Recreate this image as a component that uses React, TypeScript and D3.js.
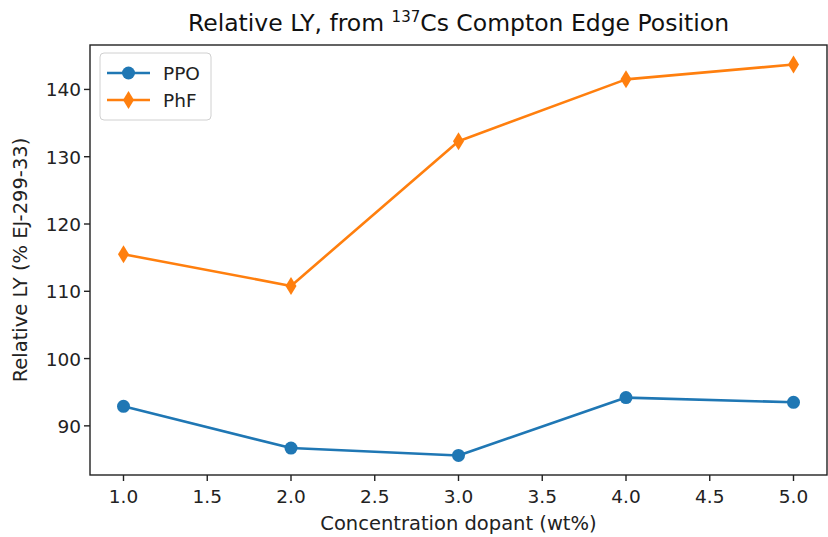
import React from "react";
import * as d3 from "d3";

const concentrations = [1.0, 2.0, 3.0, 4.0, 5.0];
const ppoValues = [92.9, 86.7, 85.6, 94.2, 93.5];
const phfValues = [115.5, 110.8, 132.3, 141.5, 143.7];
const xTicks = [1.0, 1.5, 2.0, 2.5, 3.0, 3.5, 4.0, 4.5, 5.0];
const yTicks = [90, 100, 110, 120, 130, 140];
const seriesNames = ["PPO", "PhF"];
const seriesColors = ["#1f77b4", "#ff7f0e"];

const W = 828;
const H = 537;
const M = { left: 90, right: 827, top: 45, bottom: 475 };
const FONT = "'DejaVu Sans', sans-serif";

export default function App() {
  const x = d3.scaleLinear().domain([0.8, 5.2]).range([M.left, M.right]);
  const all = [...ppoValues, ...phfValues];
  const mn = d3.min(all)!;
  const mx = d3.max(all)!;
  const pad = (mx - mn) * 0.05;
  const y = d3.scaleLinear().domain([mn - pad, mx + pad]).range([M.bottom, M.top]);
  const line = d3
    .line<number>()
    .x((_, i) => x(concentrations[i]))
    .y((d) => y(d));

  const diamond = (cx: number, cy: number, w = 5.5, h = 9) =>
    `M${cx},${cy - h}L${cx + w},${cy}L${cx},${cy + h}L${cx - w},${cy}Z`;

  const series = [ppoValues, phfValues];

  return (
    <svg
      width={W}
      height={H}
      style={{ position: "absolute", left: 0, top: 0, background: "#fff" }}
      fontFamily={FONT}
    >
      <rect x={0} y={0} width={W} height={H} fill="#fff" />
      {/* title */}
      <text x={(M.left + M.right) / 2} y={31} textAnchor="middle" fontSize={23.5} fill="#111">
        Relative LY, from <tspan fontSize={15} dy={-9}>137</tspan>
        <tspan dy={9}>Cs Compton Edge Position</tspan>
      </text>

      {/* lines */}
      {series.map((vals, si) => (
        <path
          key={si}
          d={line(vals) || ""}
          fill="none"
          stroke={seriesColors[si]}
          strokeWidth={2.6}
          strokeLinejoin="round"
        />
      ))}
      {ppoValues.map((v, i) => (
        <circle key={"c" + i} cx={x(concentrations[i])} cy={y(v)} r={6.5} fill={seriesColors[0]} />
      ))}
      {phfValues.map((v, i) => (
        <path key={"d" + i} d={diamond(x(concentrations[i]), y(v))} fill={seriesColors[1]} />
      ))}

      {/* axes frame */}
      <rect
        x={M.left}
        y={M.top}
        width={M.right - M.left}
        height={M.bottom - M.top}
        fill="none"
        stroke="#222"
        strokeWidth={1.4}
      />

      {/* x ticks */}
      {xTicks.map((t) => (
        <g key={"x" + t}>
          <line x1={x(t)} x2={x(t)} y1={M.bottom} y2={M.bottom + 6} stroke="#222" strokeWidth={1.4} />
          <text x={x(t)} y={M.bottom + 28} textAnchor="middle" fontSize={18.5} fill="#222">
            {t.toFixed(1)}
          </text>
        </g>
      ))}
      {/* y ticks */}
      {yTicks.map((t) => (
        <g key={"y" + t}>
          <line x1={M.left - 6} x2={M.left} y1={y(t)} y2={y(t)} stroke="#222" strokeWidth={1.4} />
          <text x={M.left - 9} y={y(t) + 7} textAnchor="end" fontSize={18.5} fill="#222">
            {t}
          </text>
        </g>
      ))}

      {/* axis labels */}
      <text x={(M.left + M.right) / 2} y={530} textAnchor="middle" fontSize={19.5} fill="#222">
        Concentration dopant (wt%)
      </text>
      <text
        transform={`translate(27,${(M.top + M.bottom) / 2}) rotate(-90)`}
        textAnchor="middle"
        fontSize={19.5}
        fill="#222"
      >
        Relative LY (% EJ-299-33)
      </text>

      {/* legend */}
      <rect x={100} y={53} width={111} height={67} rx={4} fill="#fff" fillOpacity={0.8} stroke="#d0d0d0" strokeWidth={1} />
      {seriesNames.map((name, i) => {
        const ly = 73 + i * 27;
        return (
          <g key={name}>
            <line x1={107} x2={150} y1={ly} y2={ly} stroke={seriesColors[i]} strokeWidth={2.6} />
            {i === 0 ? (
              <circle cx={128.5} cy={ly} r={6.5} fill={seriesColors[i]} />
            ) : (
              <path d={diamond(128.5, ly)} fill={seriesColors[i]} />
            )}
            <text x={163} y={ly + 7} fontSize={18.5} fill="#222">
              {name}
            </text>
          </g>
        );
      })}
    </svg>
  );
}
